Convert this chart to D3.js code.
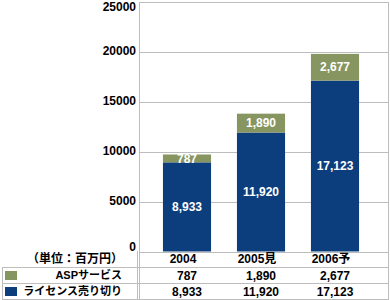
<!DOCTYPE html>
<html>
<head>
<meta charset="utf-8">
<script src="https://cdn.jsdelivr.net/npm/d3@7"></script>
<style>
  body { margin: 0; background: #fff; }
  text { font-family: "Liberation Sans", Arial, "Noto Sans CJK JP", sans-serif; font-weight: bold; }
  .jp { font-family: "Noto Sans CJK JP", sans-serif; }
</style>
</head>
<body>
<script>
const categories = ["2004", "2005見", "2006予"];
const license = [8933, 11920, 17123];
const asp = [787, 1890, 2677];
const yTicks = [0, 5000, 10000, 15000, 20000, 25000];
const seriesNames = ["ASPサービス", "ライセンス売り切り"];
const unitLabel = "（単位：百万円）";

const W = 390, H = 300;
const plot = {left: 139, right: 389, top: 2, bottom: 251.5};
const blue = "#0c3e7e", green = "#879660", grid = "#bdbdbd";

const svg = d3.select("body").append("svg")
    .attr("width", W)
    .attr("height", H);

const y = d3.scaleLinear().domain([0, 25000]).range([plot.bottom, plot.top]);
const x = d3.scaleBand().domain(categories).range([150, 372])
    .paddingInner(0.35).paddingOuter(0.175);

// gridlines
svg.append("g").selectAll("line")
    .data(yTicks)
    .enter().append("line")
    .attr("x1", plot.left).attr("x2", plot.right)
    .attr("y1", d => Math.round(y(d)) + 0.5).attr("y2", d => Math.round(y(d)) + 0.5)
    .attr("stroke", grid);

// plot frame
svg.append("line").attr("x1", plot.left + 0.5).attr("x2", plot.left + 0.5)
    .attr("y1", plot.top).attr("y2", H).attr("stroke", grid);
svg.append("line").attr("x1", plot.right - 0.5).attr("x2", plot.right - 0.5)
    .attr("y1", plot.top).attr("y2", H).attr("stroke", grid);

// y labels
svg.append("g").selectAll("text")
    .data(yTicks)
    .enter().append("text")
    .attr("x", 136)
    .attr("y", d => Math.max(7, Math.min(246.5, y(d) - 1)))
    .attr("dy", "0.35em")
    .attr("text-anchor", "end")
    .attr("font-size", 12)
    .attr("fill", "#000")
    .text(d => d);

const rows = categories.map((c, i) => ({c: c, lic: license[i], asp: asp[i]}));
const fmt = d3.format(",");

const bars = svg.append("g");
bars.selectAll(".lic")
    .data(rows)
    .enter().append("rect")
    .attr("x", d => x(d.c))
    .attr("width", x.bandwidth())
    .attr("y", d => y(d.lic))
    .attr("height", d => y(0) - y(d.lic))
    .attr("fill", blue);
bars.selectAll(".asp")
    .data(rows)
    .enter().append("rect")
    .attr("x", d => x(d.c))
    .attr("width", x.bandwidth())
    .attr("y", d => y(d.lic + d.asp))
    .attr("height", d => y(d.lic) - y(d.lic + d.asp))
    .attr("fill", green);

// labels in bars
bars.selectAll(".licl")
    .data(rows)
    .enter().append("text")
    .attr("x", d => x(d.c) + x.bandwidth() / 2)
    .attr("y", d => (y(0) + y(d.lic)) / 2)
    .attr("dy", "0.35em")
    .attr("text-anchor", "middle")
    .attr("font-size", 12)
    .attr("fill", "#fff")
    .text(d => fmt(d.lic));
bars.selectAll(".aspl")
    .data(rows)
    .enter().append("text")
    .attr("x", d => x(d.c) + x.bandwidth() / 2)
    .attr("y", d => (y(d.lic) + y(d.lic + d.asp)) / 2)
    .attr("dy", "0.35em")
    .attr("text-anchor", "middle")
    .attr("font-size", 12)
    .attr("fill", "#fff")
    .text(d => fmt(d.asp));

// data table
const rowY = [259, 275.5, 291.5];
const table = svg.append("g");
[267.5, 283.5, 299.5].forEach(ly => {
    table.append("line").attr("x1", 2).attr("x2", plot.right)
        .attr("y1", ly).attr("y2", ly).attr("stroke", grid);
});
table.append("line").attr("x1", 2.5).attr("x2", 2.5)
    .attr("y1", 267.5).attr("y2", H).attr("stroke", grid);
table.append("line").attr("x1", plot.left - 1.5).attr("x2", plot.left - 1.5)
    .attr("y1", 251).attr("y2", H).attr("stroke", grid);

table.append("text")
    .attr("class", "jp")
    .attr("x", 75).attr("y", rowY[0]).attr("dy", "0.35em")
    .attr("text-anchor", "middle").attr("font-size", 12)
    .text(unitLabel);

table.selectAll(".cat")
    .data(categories)
    .enter().append("text")
    .attr("x", d => x(d) + x.bandwidth() / 2 - 4)
    .attr("y", rowY[0]).attr("dy", "0.35em")
    .attr("text-anchor", "middle").attr("font-size", 12)
    .text(d => d);

[asp, license].forEach((vals, r) => {
    table.append("rect")
        .attr("x", 5).attr("y", rowY[r + 1] - 4.5)
        .attr("width", 12).attr("height", 9)
        .attr("fill", r === 0 ? green : blue);
    table.append("text")
        .attr("x", 122).attr("y", rowY[r + 1]).attr("dy", "0.35em")
        .attr("text-anchor", "end").attr("font-size", 11)
        .text(seriesNames[r]);
    table.selectAll(".v" + r)
        .data(vals)
        .enter().append("text")
        .attr("x", (d, i) => x(categories[i]) + x.bandwidth() / 2)
        .attr("y", rowY[r + 1]).attr("dy", "0.35em")
        .attr("text-anchor", "middle").attr("font-size", 12)
        .text(d => fmt(d));
});
</script>
</body>
</html>
